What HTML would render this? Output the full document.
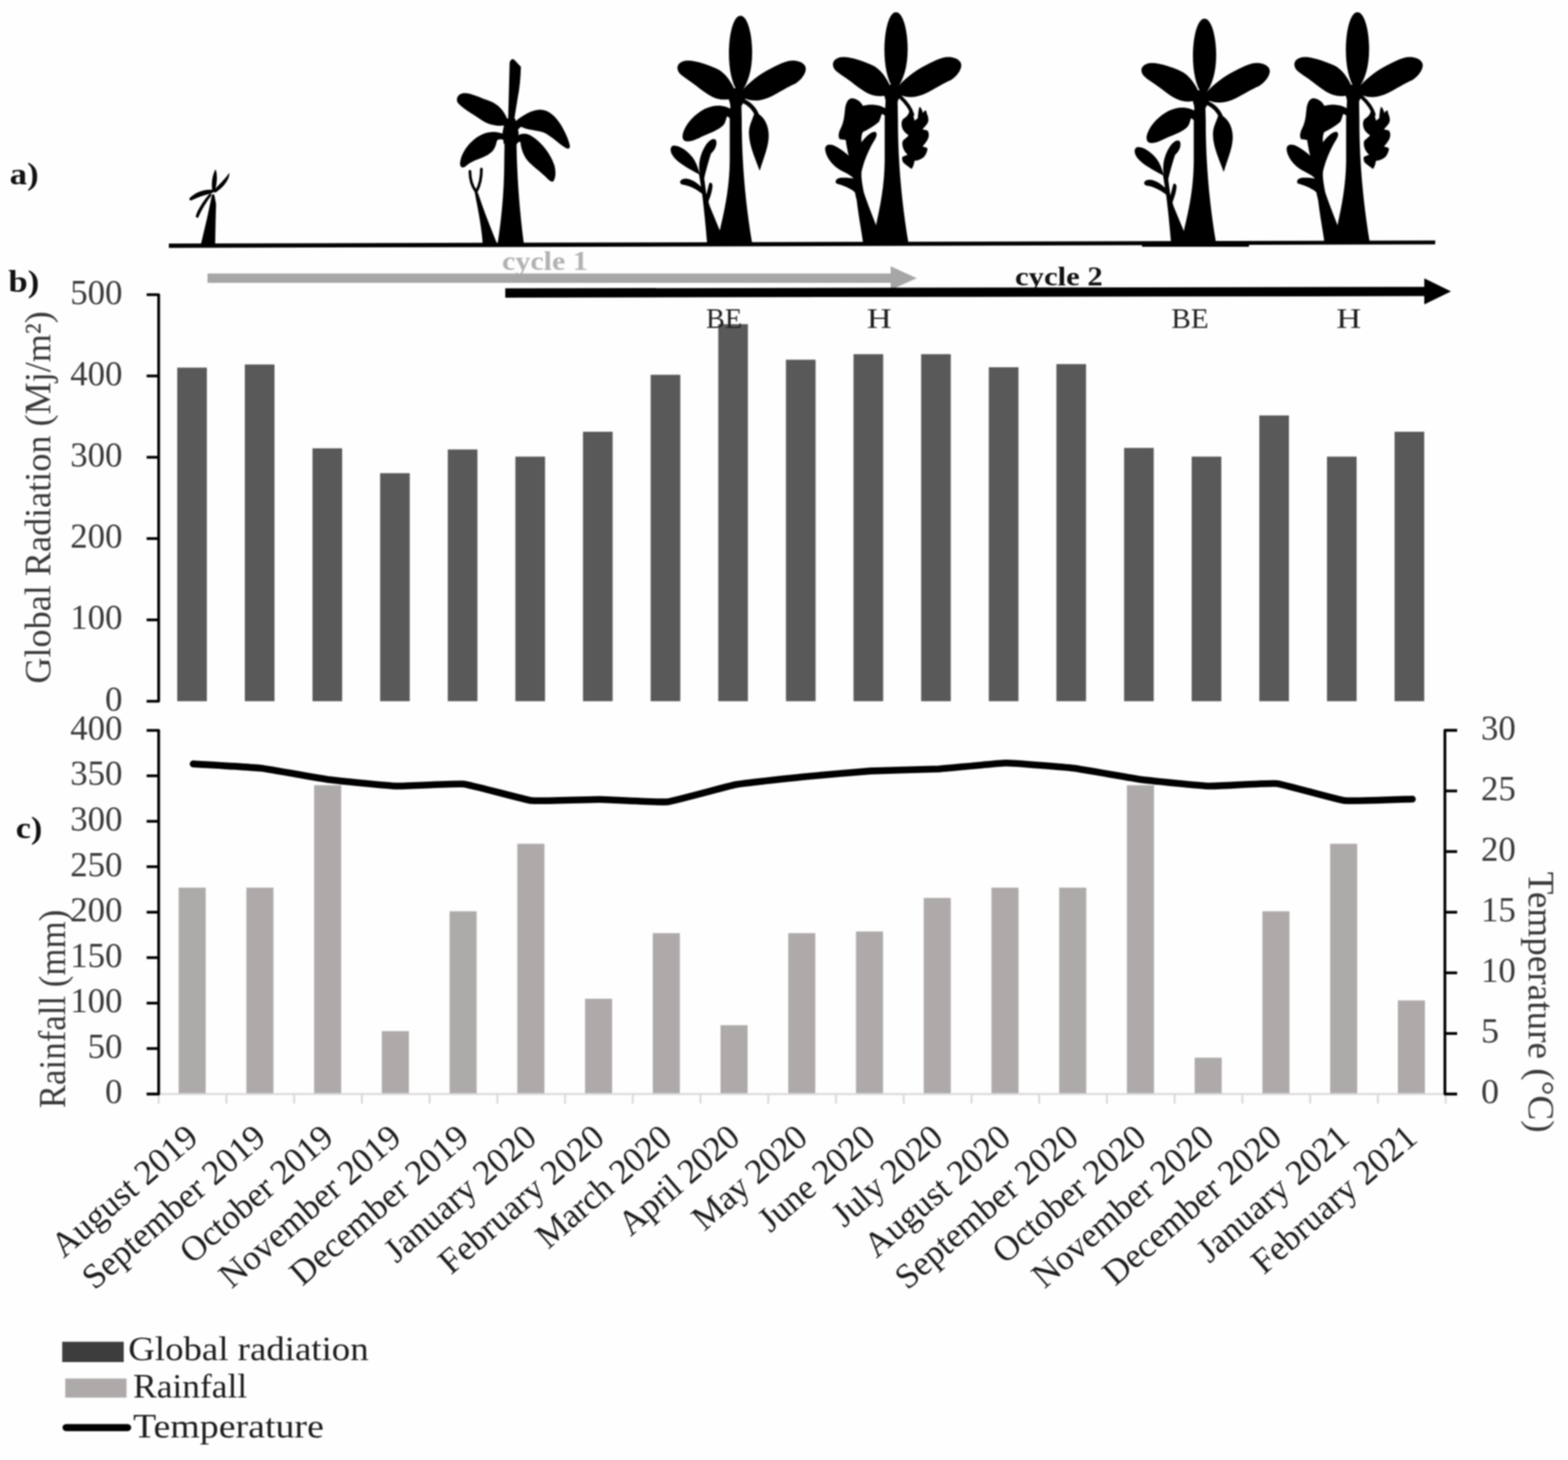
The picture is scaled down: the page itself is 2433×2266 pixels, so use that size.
<!DOCTYPE html>
<html lang="en">
<head>
<meta charset="utf-8">
<title>Banana cycles, global radiation, rainfall and temperature</title>
<style>
html,body{margin:0;padding:0;background:#fff;}
body{width:2433px;height:2266px;overflow:hidden;}
svg{display:block;filter:blur(1.1px);}
text{font-family:"Liberation Serif", "DejaVu Serif", serif;}
.tk{font-size:55px;fill:#3a3a3a;}
.ax{font-size:58px;fill:#3a3a3a;}
.lg{font-size:53px;fill:#1e1e1e;}
.mo{font-size:54.5px;fill:#1e1e1e;}
.pl{font-size:48px;font-weight:bold;fill:#111;}
.st{font-size:45px;fill:#222;}
</style>
</head>
<body>
<svg width="2433" height="2266" viewBox="0 0 2433 2266">
<rect width="2433" height="2266" fill="#fefefe"/>

<g id="plants" fill="#000" stroke="none">
<g transform="translate(200,200) scale(0.162)">
<path d="M688,1112 L748,860 L794,640 Q806,606 820,640 L835,720 L830,900 L826,1112 Z"/>
<path d="M800,605 C786,520 800,440 830,388 C850,440 846,520 822,605 Z"/>
<path d="M808,598 C850,545 915,490 962,422 C968,470 915,560 826,612 Z"/>
<path d="M805,586 C720,574 630,612 578,668 Q580,690 602,684 C665,650 745,628 805,612 Z"/>
<path d="M780,612 C722,680 662,760 640,838 Q650,860 664,848 C698,772 742,700 792,636 Z"/>
</g>
<g transform="translate(680,70) scale(0.17818)">
<path d="M585,640 L670,640 L700,760 L690,860 L570,860 L560,760 Z"/>
<path d="M515,1745 C545,1550 575,1300 575,1000 L578,820 L600,690 L665,690 L682,820 C682,1000 695,1350 748,1745 Z"/>
<path d="M608,690 L622,150 Q638,108 662,128 L720,190 Q716,340 692,460 L655,690 Z"/>
<path d="M612,668 C570,560 520,512 430,480 C350,452 285,418 230,418 C180,418 150,458 168,500 C200,545 300,600 380,655 C445,698 530,715 610,692 Z"/>
<path d="M600,795 C545,750 460,748 400,770 C300,808 200,920 190,1030 C190,1075 222,1072 242,1052 C300,1000 400,985 452,942 C492,912 502,872 512,830 C532,812 565,822 600,835 Z"/>
<path d="M655,680 C720,620 800,570 880,563 C960,560 1022,620 1072,700 C1112,770 1142,840 1147,882 C1142,912 1120,902 1100,890 C1040,850 980,790 920,762 C860,742 780,742 722,712 C702,722 692,742 682,762 Z"/>
<path d="M680,795 C730,758 780,768 822,798 C902,850 982,950 1012,1050 C1027,1110 1022,1162 1002,1187 C982,1197 960,1172 940,1152 C880,1092 800,1042 760,982 C730,932 720,882 715,842 C700,842 690,852 680,862 Z"/>
<path d="M388,1745 C380,1600 350,1450 318,1285 L345,1285 C400,1450 460,1600 500,1700 L520,1745 Z"/>
<path d="M328,1275 C292,1225 276,1160 276,1100 M332,1275 C362,1222 376,1150 376,1080" fill="none" stroke="#000" stroke-width="24" stroke-linecap="round"/>
</g>
<g transform="translate(1020,0.0) scale(0.21598,0.21598)">
<path d="M528,640 L600,625 L640,690 L606,760 L526,760 L510,700 Z"/>
<path d="M597,113 C650,113 681,250 681,380 C681,500 652,600 602,662 L578,662 C535,600 514,500 514,380 C514,250 545,113 597,113 Z"/>
<path d="M562,660 C530,580 482,520 430,495 C370,468 280,435 220,435 C168,435 138,465 145,497 C150,530 182,547 232,582 C292,622 352,682 422,707 C472,722 522,716 562,700 Z"/>
<path d="M598,662 C660,590 740,530 800,500 C860,470 920,435 972,435 C1032,435 1072,465 1066,502 C1060,542 1022,582 990,602 C940,622 880,662 820,692 C760,722 700,732 640,712 L598,702 Z"/>

<path d="M436,1755 L449,1655 C485,1500 518,1350 520,1150 L520,850 L528,690 L602,685 L606,850 C606,1100 622,1400 682,1755 Z"/>

<path d="M540,792 C500,760 440,753 390,765 C320,780 250,840 210,900 C180,950 170,992 195,1012 C230,1027 280,1002 330,977 C390,952 442,932 472,902 C492,882 492,852 502,835 C512,842 522,852 532,862 Z"/>

<path d="M612,722 C670,748 702,790 718,832" fill="none" stroke="#000" stroke-width="30" stroke-linecap="round"/>
<path d="M715,813 C772,840 802,910 800,980 C797,1060 767,1122 735,1228 C705,1142 660,1050 658,960 C656,900 684,860 695,818 Z"/>

<path d="M358,1755 C345,1600 335,1500 320,1380 L298,1245 L332,1245 L352,1400 L376,1480 L452,1665 L462,1755 Z"/>
<path d="M304,1255 C262,1232 180,1192 130,1142 C88,1100 88,1058 110,1048 C150,1038 212,1080 252,1130 C282,1170 292,1210 304,1245 Z"/>
<path d="M308,1262 C288,1180 310,1100 350,1040 C380,998 412,988 422,1010 C432,1040 412,1082 386,1102 C370,1150 350,1222 336,1282 Z"/>
<path d="M332,1402 C290,1362 230,1332 180,1326 C158,1320 158,1298 180,1288 C220,1274 272,1300 322,1350 Z"/>
<path d="M344,1422 C360,1380 365,1340 374,1314 Q390,1308 396,1330 C396,1370 380,1412 366,1452 Z"/>
</g>
<g transform="translate(1260,0) scale(0.21598)"><g transform="translate(6,-25)">
<path d="M528,640 L600,625 L640,690 L606,760 L526,760 L510,700 Z"/>
<path d="M597,113 C650,113 681,250 681,380 C681,500 652,600 602,662 L578,662 C535,600 514,500 514,380 C514,250 545,113 597,113 Z"/>
<path d="M562,660 C530,580 482,520 430,495 C370,468 280,435 220,435 C168,435 138,465 145,497 C150,530 182,547 232,582 C292,622 352,682 422,707 C472,722 522,716 562,700 Z"/>
<path d="M598,662 C660,590 740,530 800,500 C860,470 920,435 972,435 C1032,435 1072,465 1066,502 C1060,542 1022,582 990,602 C940,622 880,662 820,692 C760,722 700,732 640,712 L598,702 Z"/>
</g>
<path d="M440,1755 L460,1618 C490,1480 521,1330 522,1150 L522,850 L530,690 L614,685 L617,850 C617,1100 634,1400 694,1755 Z"/>
</g>
<g transform="translate(1270,130) scale(0.09557)">
<path d="M1100,410 C1000,335 850,325 722,358 C690,300 640,245 545,235 C470,240 440,330 430,420 C420,520 415,600 372,700 C330,780 310,850 345,900 C390,915 420,905 442,912 C455,1000 470,1080 490,1170 C440,1120 340,1040 230,995 C150,975 100,1000 110,1080 C130,1200 220,1320 350,1400 C440,1450 520,1480 570,1540 C510,1530 420,1520 340,1530 C280,1545 265,1590 290,1620 C400,1650 520,1700 590,1760 L622,1900 C650,2150 700,2400 726,2600 L958,2600 L937,2301 C860,2100 780,1900 735,1760 C705,1600 690,1500 700,1420 C740,1250 820,1060 900,930 C950,860 960,800 920,780 C860,780 780,840 700,950 C690,900 700,820 720,785 C800,745 900,690 980,620 C1010,570 1012,520 1030,490 C1060,500 1080,520 1100,540 Z"/>

<path d="M1330,215 C1420,300 1495,390 1525,500" fill="none" stroke="#000" stroke-width="58" stroke-linecap="round"/>
<path d="M1475,440 C1470,480 1450,520 1400,555 C1350,580 1340,640 1355,700 C1370,760 1410,800 1462,835 C1440,880 1380,900 1365,940 C1350,1000 1380,1090 1445,1150 C1420,1170 1370,1170 1358,1200 C1355,1240 1370,1280 1400,1300 C1440,1330 1480,1360 1510,1385 C1540,1350 1550,1300 1560,1250 C1620,1250 1680,1220 1720,1180 C1750,1140 1770,1090 1770,1050 C1750,1030 1720,1025 1690,1020 C1710,990 1750,950 1775,900 C1800,850 1795,790 1770,760 C1740,745 1710,750 1690,740 C1720,700 1770,660 1782,610 C1790,560 1775,520 1760,490 C1755,460 1750,440 1740,430 C1720,440 1705,460 1695,480 C1690,440 1670,400 1645,372 C1625,400 1620,480 1612,560 L1560,600 C1550,540 1530,480 1475,440 Z"/>
</g>
<g transform="translate(1740,5.0) scale(0.21598,0.21338824)">
<path d="M528,640 L600,625 L640,690 L606,760 L526,760 L510,700 Z"/>
<path d="M597,113 C650,113 681,250 681,380 C681,500 652,600 602,662 L578,662 C535,600 514,500 514,380 C514,250 545,113 597,113 Z"/>
<path d="M562,660 C530,580 482,520 430,495 C370,468 280,435 220,435 C168,435 138,465 145,497 C150,530 182,547 232,582 C292,622 352,682 422,707 C472,722 522,716 562,700 Z"/>
<path d="M598,662 C660,590 740,530 800,500 C860,470 920,435 972,435 C1032,435 1072,465 1066,502 C1060,542 1022,582 990,602 C940,622 880,662 820,692 C760,722 700,732 640,712 L598,702 Z"/>

<path d="M436,1755 L449,1655 C485,1500 518,1350 520,1150 L520,850 L528,690 L602,685 L606,850 C606,1100 622,1400 682,1755 Z"/>

<path d="M540,792 C500,760 440,753 390,765 C320,780 250,840 210,900 C180,950 170,992 195,1012 C230,1027 280,1002 330,977 C390,952 442,932 472,902 C492,882 492,852 502,835 C512,842 522,852 532,862 Z"/>

<path d="M612,722 C670,748 702,790 718,832" fill="none" stroke="#000" stroke-width="30" stroke-linecap="round"/>
<path d="M715,813 C772,840 802,910 800,980 C797,1060 767,1122 735,1228 C705,1142 660,1050 658,960 C656,900 684,860 695,818 Z"/>

<path d="M358,1755 C345,1600 335,1500 320,1380 L298,1245 L332,1245 L352,1400 L376,1480 L452,1665 L462,1755 Z"/>
<path d="M304,1255 C262,1232 180,1192 130,1142 C88,1100 88,1058 110,1048 C150,1038 212,1080 252,1130 C282,1170 292,1210 304,1245 Z"/>
<path d="M308,1262 C288,1180 310,1100 350,1040 C380,998 412,988 422,1010 C432,1040 412,1082 386,1102 C370,1150 350,1222 336,1282 Z"/>
<path d="M332,1402 C290,1362 230,1332 180,1326 C158,1320 158,1298 180,1288 C220,1274 272,1300 322,1350 Z"/>
<path d="M344,1422 C360,1380 365,1340 374,1314 Q390,1308 396,1330 C396,1370 380,1412 366,1452 Z"/>
</g>
<rect x="1772" y="378" width="166" height="5"/><g transform="translate(1976,0) scale(0.21598)"><g transform="translate(6,-25)">
<path d="M528,640 L600,625 L640,690 L606,760 L526,760 L510,700 Z"/>
<path d="M597,113 C650,113 681,250 681,380 C681,500 652,600 602,662 L578,662 C535,600 514,500 514,380 C514,250 545,113 597,113 Z"/>
<path d="M562,660 C530,580 482,520 430,495 C370,468 280,435 220,435 C168,435 138,465 145,497 C150,530 182,547 232,582 C292,622 352,682 422,707 C472,722 522,716 562,700 Z"/>
<path d="M598,662 C660,590 740,530 800,500 C860,470 920,435 972,435 C1032,435 1072,465 1066,502 C1060,542 1022,582 990,602 C940,622 880,662 820,692 C760,722 700,732 640,712 L598,702 Z"/>
</g>
<path d="M440,1755 L460,1618 C490,1480 521,1330 522,1150 L522,850 L530,690 L614,685 L617,850 C617,1100 634,1400 694,1755 Z"/>
</g>
<g transform="translate(1986,130) scale(0.09557)">
<path d="M1100,410 C1000,335 850,325 722,358 C690,300 640,245 545,235 C470,240 440,330 430,420 C420,520 415,600 372,700 C330,780 310,850 345,900 C390,915 420,905 442,912 C455,1000 470,1080 490,1170 C440,1120 340,1040 230,995 C150,975 100,1000 110,1080 C130,1200 220,1320 350,1400 C440,1450 520,1480 570,1540 C510,1530 420,1520 340,1530 C280,1545 265,1590 290,1620 C400,1650 520,1700 590,1760 L622,1900 C650,2150 700,2400 726,2600 L958,2600 L937,2301 C860,2100 780,1900 735,1760 C705,1600 690,1500 700,1420 C740,1250 820,1060 900,930 C950,860 960,800 920,780 C860,780 780,840 700,950 C690,900 700,820 720,785 C800,745 900,690 980,620 C1010,570 1012,520 1030,490 C1060,500 1080,520 1100,540 Z"/>

<path d="M1330,215 C1420,300 1495,390 1525,500" fill="none" stroke="#000" stroke-width="58" stroke-linecap="round"/>
<path d="M1475,440 C1470,480 1450,520 1400,555 C1350,580 1340,640 1355,700 C1370,760 1410,800 1462,835 C1440,880 1380,900 1365,940 C1350,1000 1380,1090 1445,1150 C1420,1170 1370,1170 1358,1200 C1355,1240 1370,1280 1400,1300 C1440,1330 1480,1360 1510,1385 C1540,1350 1550,1300 1560,1250 C1620,1250 1680,1220 1720,1180 C1750,1140 1770,1090 1770,1050 C1750,1030 1720,1025 1690,1020 C1710,990 1750,950 1775,900 C1800,850 1795,790 1770,760 C1740,745 1710,750 1690,740 C1720,700 1770,660 1782,610 C1790,560 1775,520 1760,490 C1755,460 1750,440 1740,430 C1720,440 1705,460 1695,480 C1690,440 1670,400 1645,372 C1625,400 1620,480 1612,560 L1560,600 C1550,540 1530,480 1475,440 Z"/>
</g>

</g>
<path d="M262,378 L2227,373.2 V379.3 L262,384.8 Z" fill="#000"/>
<text class="pl" x="779" y="419" style="font-size:43px;fill:#b2b2b2" textLength="133" lengthAdjust="spacingAndGlyphs">cycle 1</text>
<path d="M322,424.4 H1382 V413.2 L1422.5,431.7 L1382,450 V439 H322 Z" fill="#a6a6a6"/>
<text class="pl" x="1575" y="443" style="font-size:43px;fill:#111" textLength="136" lengthAdjust="spacingAndGlyphs">cycle 2</text>
<path d="M784,447.5 L2210,445.2 V432 L2251.5,452.2 L2210,472.4 V459.6 L784,461.9 Z" fill="#000"/>
<text class="pl" x="15" y="285.5" textLength="45" lengthAdjust="spacingAndGlyphs">a)</text>
<text class="pl" x="13" y="453" textLength="48" lengthAdjust="spacingAndGlyphs">b)</text>
<text class="pl" x="24.5" y="1301" textLength="41" lengthAdjust="spacingAndGlyphs">c)</text>
<g id="chart-b">
<g fill="#595959">
<rect x="275.0" y="570.6" width="46" height="517.7"/>
<rect x="379.9" y="565.7" width="46" height="522.6"/>
<rect x="484.9" y="695.8" width="46" height="392.5"/>
<rect x="589.8" y="734.4" width="46" height="353.9"/>
<rect x="694.8" y="697.6" width="46" height="390.7"/>
<rect x="799.7" y="708.7" width="46" height="379.6"/>
<rect x="904.6" y="670.1" width="46" height="418.2"/>
<rect x="1009.6" y="581.7" width="46" height="506.6"/>
<rect x="1114.5" y="503.1" width="46" height="585.2"/>
<rect x="1219.5" y="558.3" width="46" height="530.0"/>
<rect x="1324.4" y="549.7" width="46" height="538.6"/>
<rect x="1429.3" y="549.7" width="46" height="538.6"/>
<rect x="1534.3" y="570.0" width="46" height="518.3"/>
<rect x="1639.2" y="565.1" width="46" height="523.2"/>
<rect x="1744.2" y="695.2" width="46" height="393.1"/>
<rect x="1849.1" y="708.7" width="46" height="379.6"/>
<rect x="1954.0" y="644.8" width="46" height="443.5"/>
<rect x="2059.0" y="708.7" width="46" height="379.6"/>
<rect x="2163.9" y="670.1" width="46" height="418.2"/>
</g>
<g stroke="#000" stroke-width="4.3" fill="none" stroke-linejoin="round">
<path d="M227.5,457.3 H246.2 V1088.3 H227.5"/>
<path d="M227.5,583.5 H246.2"/>
<path d="M227.5,709.7 H246.2"/>
<path d="M227.5,835.9 H246.2"/>
<path d="M227.5,962.1 H246.2"/>
</g>
<text class="tk" x="190" y="471.6" text-anchor="end" textLength="81" lengthAdjust="spacingAndGlyphs">500</text>
<text class="tk" x="190" y="597.8" text-anchor="end" textLength="81" lengthAdjust="spacingAndGlyphs">400</text>
<text class="tk" x="190" y="724.0" text-anchor="end" textLength="81" lengthAdjust="spacingAndGlyphs">300</text>
<text class="tk" x="190" y="850.2" text-anchor="end" textLength="81" lengthAdjust="spacingAndGlyphs">200</text>
<text class="tk" x="190" y="976.4" text-anchor="end" textLength="81" lengthAdjust="spacingAndGlyphs">100</text>
<text class="tk" x="190" y="1102.6" text-anchor="end" textLength="27" lengthAdjust="spacingAndGlyphs">0</text>
<text class="ax" transform="translate(77.5,772) rotate(-90)" text-anchor="middle" textLength="578" lengthAdjust="spacingAndGlyphs">Global Radiation (Mj/m²)</text>
</g>
<text class="st" x="1095.5" y="509" textLength="56" lengthAdjust="spacingAndGlyphs">BE</text>
<text class="st" x="1345" y="509" textLength="38.5" lengthAdjust="spacingAndGlyphs">H</text>
<text class="st" x="1817.5" y="509" textLength="58" lengthAdjust="spacingAndGlyphs">BE</text>
<text class="st" x="2073.5" y="509" textLength="38.5" lengthAdjust="spacingAndGlyphs">H</text>
<g id="chart-c">
<g fill="#aeaaaa">
<rect x="277.2" y="1377.7" width="42" height="320.3"/>
<rect x="382.3" y="1377.7" width="42" height="320.3"/>
<rect x="487.4" y="1218.7" width="42" height="479.3"/>
<rect x="592.5" y="1600.4" width="42" height="97.6"/>
<rect x="697.6" y="1414.4" width="42" height="283.6"/>
<rect x="802.7" y="1309.6" width="42" height="388.4"/>
<rect x="907.8" y="1550.1" width="42" height="147.9"/>
<rect x="1012.9" y="1448.3" width="42" height="249.7"/>
<rect x="1118.0" y="1591.2" width="42" height="106.8"/>
<rect x="1223.1" y="1448.3" width="42" height="249.7"/>
<rect x="1328.2" y="1445.7" width="42" height="252.3"/>
<rect x="1433.3" y="1393.6" width="42" height="304.4"/>
<rect x="1538.4" y="1377.7" width="42" height="320.3"/>
<rect x="1643.5" y="1377.7" width="42" height="320.3"/>
<rect x="1748.6" y="1218.7" width="42" height="479.3"/>
<rect x="1853.7" y="1641.6" width="42" height="56.4"/>
<rect x="1958.8" y="1414.4" width="42" height="283.6"/>
<rect x="2063.9" y="1309.6" width="42" height="388.4"/>
<rect x="2169.0" y="1552.7" width="42" height="145.3"/>
</g>
<g stroke="#d9d9d9" stroke-width="3" fill="none">
<path d="M246,1698.0 H2242"/>
<path d="M246.2,1698.0 V1713.0"/>
<path d="M351.3,1698.0 V1713.0"/>
<path d="M456.4,1698.0 V1713.0"/>
<path d="M561.5,1698.0 V1713.0"/>
<path d="M666.6,1698.0 V1713.0"/>
<path d="M771.7,1698.0 V1713.0"/>
<path d="M876.8,1698.0 V1713.0"/>
<path d="M981.9,1698.0 V1713.0"/>
<path d="M1087.0,1698.0 V1713.0"/>
<path d="M1192.1,1698.0 V1713.0"/>
<path d="M1297.2,1698.0 V1713.0"/>
<path d="M1402.3,1698.0 V1713.0"/>
<path d="M1507.4,1698.0 V1713.0"/>
<path d="M1612.5,1698.0 V1713.0"/>
<path d="M1717.6,1698.0 V1713.0"/>
<path d="M1822.7,1698.0 V1713.0"/>
<path d="M1927.8,1698.0 V1713.0"/>
<path d="M2032.9,1698.0 V1713.0"/>
<path d="M2138.0,1698.0 V1713.0"/>
<path d="M2243.1,1698.0 V1713.0"/>
</g>
<path d="M299.7,1185.6 C305.0,1185.9 394.3,1191.1 404.8,1192.3 C415.3,1193.5 499.4,1208.6 509.9,1210.0 C520.4,1211.4 604.5,1219.7 615.0,1220.0 C625.5,1220.3 709.6,1215.8 720.1,1216.9 C730.6,1218.0 814.7,1241.4 825.2,1242.6 C835.7,1243.8 919.8,1240.7 930.3,1240.8 C940.8,1240.9 1024.9,1245.6 1035.4,1244.5 C1045.9,1243.4 1130.0,1219.9 1140.5,1218.0 C1151.0,1216.1 1235.1,1206.9 1245.6,1205.8 C1256.1,1204.7 1340.2,1197.2 1350.7,1196.6 C1361.2,1196.0 1445.3,1194.1 1455.8,1193.5 C1466.3,1192.9 1550.4,1184.4 1560.9,1184.3 C1571.4,1184.2 1655.5,1191.0 1666.0,1192.3 C1676.5,1193.6 1760.6,1208.6 1771.1,1210.0 C1781.6,1211.4 1865.7,1219.7 1876.2,1220.0 C1886.7,1220.3 1970.8,1215.1 1981.3,1216.2 C1991.8,1217.3 2075.9,1241.4 2086.4,1242.6 C2096.9,1243.8 2186.2,1240.3 2191.5,1240.2" fill="none" stroke="#000" stroke-width="10.6" stroke-linejoin="round" stroke-linecap="round"/>
<g stroke="#000" stroke-width="4.3" fill="none" stroke-linejoin="round">
<path d="M227.5,1133.6 H246.2 V1698.0 H227.5"/>
<path d="M227.5,1204.1 H246.2"/>
<path d="M227.5,1274.7 H246.2"/>
<path d="M227.5,1345.2 H246.2"/>
<path d="M227.5,1415.8 H246.2"/>
<path d="M227.5,1486.3 H246.2"/>
<path d="M227.5,1556.9 H246.2"/>
<path d="M227.5,1627.4 H246.2"/>
<path d="M2261,1133.5 H2242 V1698.0 H2261"/>
<path d="M2242,1227.6 H2261"/>
<path d="M2242,1321.7 H2261"/>
<path d="M2242,1415.8 H2261"/>
<path d="M2242,1509.9 H2261"/>
<path d="M2242,1604.0 H2261"/>
</g>
<text class="tk" x="190" y="1147.9" text-anchor="end" textLength="81" lengthAdjust="spacingAndGlyphs">400</text>
<text class="tk" x="190" y="1218.4" text-anchor="end" textLength="81" lengthAdjust="spacingAndGlyphs">350</text>
<text class="tk" x="190" y="1289.0" text-anchor="end" textLength="81" lengthAdjust="spacingAndGlyphs">300</text>
<text class="tk" x="190" y="1359.5" text-anchor="end" textLength="81" lengthAdjust="spacingAndGlyphs">250</text>
<text class="tk" x="190" y="1430.1" text-anchor="end" textLength="81" lengthAdjust="spacingAndGlyphs">200</text>
<text class="tk" x="190" y="1500.6" text-anchor="end" textLength="81" lengthAdjust="spacingAndGlyphs">150</text>
<text class="tk" x="190" y="1571.2" text-anchor="end" textLength="81" lengthAdjust="spacingAndGlyphs">100</text>
<text class="tk" x="190" y="1641.7" text-anchor="end" textLength="54" lengthAdjust="spacingAndGlyphs">50</text>
<text class="tk" x="190" y="1712.3" text-anchor="end" textLength="27" lengthAdjust="spacingAndGlyphs">0</text>
<text class="tk" x="2298" y="1147.8" textLength="54" lengthAdjust="spacingAndGlyphs">30</text>
<text class="tk" x="2298" y="1241.9" textLength="54" lengthAdjust="spacingAndGlyphs">25</text>
<text class="tk" x="2298" y="1336.0" textLength="54" lengthAdjust="spacingAndGlyphs">20</text>
<text class="tk" x="2298" y="1430.1" textLength="54" lengthAdjust="spacingAndGlyphs">15</text>
<text class="tk" x="2298" y="1524.2" textLength="54" lengthAdjust="spacingAndGlyphs">10</text>
<text class="tk" x="2298" y="1618.3" textLength="28" lengthAdjust="spacingAndGlyphs">5</text>
<text class="tk" x="2298" y="1712.4" textLength="28" lengthAdjust="spacingAndGlyphs">0</text>
<text class="ax" transform="translate(100.5,1566) rotate(-90)" text-anchor="middle" textLength="308" style="font-size:59px" lengthAdjust="spacingAndGlyphs">Rainfall (mm)</text>
<text class="ax" transform="translate(2372,1353) rotate(90)" textLength="405" lengthAdjust="spacingAndGlyphs">Temperature (°C)</text>
<text class="mo" transform="translate(310.2,1770.0) rotate(-41.0)" text-anchor="end">August 2019</text>
<text class="mo" transform="translate(415.3,1770.0) rotate(-41.0)" text-anchor="end">September 2019</text>
<text class="mo" transform="translate(520.4,1770.0) rotate(-41.0)" text-anchor="end" textLength="294.5" lengthAdjust="spacing">October 2019</text>
<text class="mo" transform="translate(625.5,1770.0) rotate(-41.0)" text-anchor="end">November 2019</text>
<text class="mo" transform="translate(730.6,1770.0) rotate(-41.0)" text-anchor="end">December 2019</text>
<text class="mo" transform="translate(835.7,1770.0) rotate(-41.0)" text-anchor="end">January 2020</text>
<text class="mo" transform="translate(940.8,1770.0) rotate(-41.0)" text-anchor="end">February 2020</text>
<text class="mo" transform="translate(1045.9,1770.0) rotate(-41.0)" text-anchor="end" textLength="259" lengthAdjust="spacing">March 2020</text>
<text class="mo" transform="translate(1151.0,1770.0) rotate(-41.0)" text-anchor="end" textLength="228.5" lengthAdjust="spacing">April 2020</text>
<text class="mo" transform="translate(1256.1,1770.0) rotate(-41.0)" text-anchor="end" textLength="216.5" lengthAdjust="spacing">May 2020</text>
<text class="mo" transform="translate(1361.2,1770.0) rotate(-41.0)" text-anchor="end" textLength="220" lengthAdjust="spacing">June 2020</text>
<text class="mo" transform="translate(1466.3,1770.0) rotate(-41.0)" text-anchor="end" textLength="207.5" lengthAdjust="spacing">July 2020</text>
<text class="mo" transform="translate(1571.4,1770.0) rotate(-41.0)" text-anchor="end">August 2020</text>
<text class="mo" transform="translate(1676.5,1770.0) rotate(-41.0)" text-anchor="end">September 2020</text>
<text class="mo" transform="translate(1781.6,1770.0) rotate(-41.0)" text-anchor="end" textLength="294.5" lengthAdjust="spacing">October 2020</text>
<text class="mo" transform="translate(1886.7,1770.0) rotate(-41.0)" text-anchor="end">November 2020</text>
<text class="mo" transform="translate(1991.8,1770.0) rotate(-41.0)" text-anchor="end">December 2020</text>
<text class="mo" transform="translate(2096.9,1770.0) rotate(-41.0)" text-anchor="end">January 2021</text>
<text class="mo" transform="translate(2202.0,1770.0) rotate(-41.0)" text-anchor="end">February 2021</text>
</g>
<g id="legend">
<rect x="96.5" y="2082.5" width="95.5" height="31.5" fill="#3d3d3d"/>
<text class="lg" x="199" y="2111" textLength="373" lengthAdjust="spacingAndGlyphs">Global radiation</text>
<rect x="101.3" y="2139.5" width="95" height="29.7" fill="#aeaaaa"/>
<text class="lg" x="206.5" y="2169" textLength="177" lengthAdjust="spacingAndGlyphs">Rainfall</text>
<line x1="102.5" y1="2215.7" x2="198" y2="2215.7" stroke="#000" stroke-width="11" stroke-linecap="round"/>
<text class="lg" x="206.5" y="2230.7" textLength="296" lengthAdjust="spacingAndGlyphs">Temperature</text>
</g>
</svg>
</body>
</html>
